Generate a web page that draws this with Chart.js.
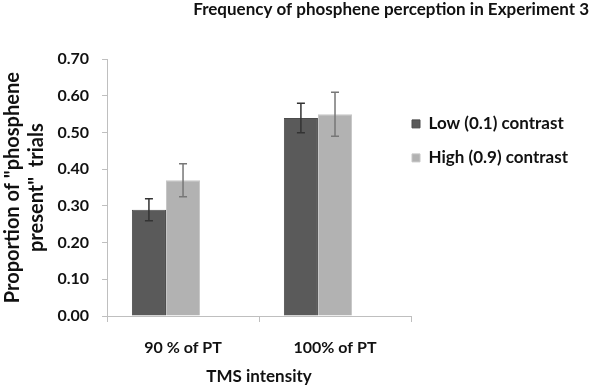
<!DOCTYPE html>
<html><head><meta charset="utf-8">
<script src="https://cdn.jsdelivr.net/npm/chart.js@4.4.1/dist/chart.umd.min.js"></script>
<style>html,body{margin:0;padding:0;background:#fff}#wrap{width:591px;height:388px}</style>
</head><body><div id="wrap"><canvas id="c" width="591" height="388"></canvas></div>
<script>
const categories = ["90 % of PT", "100% of PT"];
const seriesNames = ["Low (0.1) contrast", "High (0.9) contrast"];
const lowValues = [0.29, 0.54];
const highValues = [0.37, 0.55];
const lowErrors = [0.03, 0.04];
const highErrors = [0.045, 0.06];
const emptySeries = [null, null];
const yTicks = [0, 0.1, 0.2, 0.3, 0.4, 0.5, 0.6, 0.7];

const FONT = "Lato, 'Open Sans', sans-serif";
const TXT = '#111111';

const errorBarPlugin = {
  id: 'errbars',
  afterDatasetsDraw(chart) {
    const ctx = chart.ctx, ys = chart.scales.y;
    chart.data.datasets.forEach((ds, i) => {
      if (!ds.errors) return;
      const meta = chart.getDatasetMeta(i);
      meta.data.forEach((el, j) => {
        const v = ds.data[j], e = ds.errors[j];
        if (v == null) return;
        const top = ys.getPixelForValue(v + e), bot = ys.getPixelForValue(v - e);
        ctx.save();
        ctx.strokeStyle = ds.errColor; ctx.lineWidth = 1.5;
        ctx.beginPath();
        ctx.moveTo(el.x, top); ctx.lineTo(el.x, bot);
        ctx.moveTo(el.x - 4, top); ctx.lineTo(el.x + 4, top);
        ctx.moveTo(el.x - 4, bot); ctx.lineTo(el.x + 4, bot);
        ctx.stroke();
        ctx.restore();
      });
    });
  }
};

// nudge the legend block a little closer to the plot, as in the original
const legendNudge = {
  id: 'legendNudge',
  afterLayout(chart) {
    const lg = chart.legend;
    if (lg) { lg.left -= 16; lg.right -= 16; }
  }
};

new Chart(document.getElementById('c'), {
  type: 'bar',
  data: {
    labels: categories,
    datasets: [
      { label: seriesNames[0], data: lowValues, errors: lowErrors, errColor: '#333333',
        backgroundColor: '#5a5a5a', borderColor: '#4c4c4c', borderWidth: 1 },
      { label: seriesNames[1], data: highValues, errors: highErrors, errColor: '#777777',
        backgroundColor: '#b2b2b2', borderColor: '#c6c6c6', borderWidth: 1 },
      { label: '', data: emptySeries, backgroundColor: 'rgba(0,0,0,0)' }
    ]
  },
  options: {
    responsive: false,
    animation: false,
    devicePixelRatio: 1,
    layout: { padding: { left: 0, right: 2, top: 0, bottom: 1 } },
    datasets: { bar: { categoryPercentage: 0.673, barPercentage: 1.0 } },
    plugins: {
      title: { display: true, text: 'Frequency of phosphene perception in Experiment 3', align: 'end',
        color: TXT, font: { family: FONT, size: 17, weight: 'bold' }, padding: { top: -1, bottom: 39.9 } },
      legend: { position: 'right', align: 'start', maxWidth: 178,
        title: { display: true, text: ' ', font: { size: 12 }, padding: { top: 84, bottom: 0 } },
        labels: { boxWidth: 8, boxHeight: 8, padding: 17, color: TXT,
          font: { family: FONT, size: 17, weight: 'bold' },
          filter: (item) => item.text !== '' } },
      tooltip: { enabled: false }
    },
    scales: {
      x: {
        grid: { display: true, drawOnChartArea: false, drawTicks: true, tickLength: 6, color: '#bfbfbf', offset: true },
        border: { color: '#bfbfbf', width: 1 },
        ticks: { color: TXT, font: { family: FONT, size: 16, weight: 'bold' }, padding: 16.5, maxRotation: 0 },
        title: { display: true, text: 'TMS intensity', color: TXT, font: { family: FONT, size: 17, weight: 'bold' }, padding: { top: -7.6, bottom: 0 } }
      },
      y: {
        min: 0, max: 0.7,
        afterBuildTicks: (s) => { s.ticks = yTicks.map(v => ({ value: v })); },
        grid: { display: true, drawOnChartArea: false, drawTicks: true, tickLength: 5, color: '#bfbfbf' },
        border: { color: '#bfbfbf', width: 1 },
        ticks: { color: TXT, font: { family: FONT, size: 16, weight: 'bold' }, padding: 13,
          callback: (v) => Number(v).toFixed(2) },
        title: { display: true, text: ['Proportion of "phosphene', 'present"  trials'], color: TXT,
          font: { family: FONT, size: 20, weight: 'bold' }, padding: { top: 1, bottom: -4.6 } }
      }
    }
  },
  plugins: [errorBarPlugin, legendNudge]
});
</script></body></html>
